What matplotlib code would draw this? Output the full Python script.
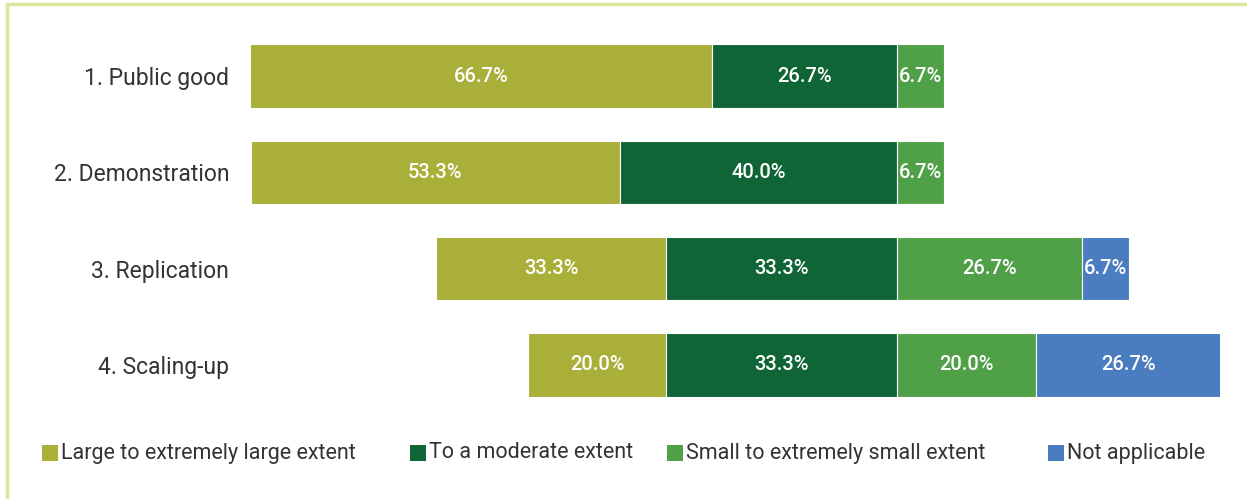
"""Diverging stacked bar chart of extent ratings per category."""

import matplotlib
matplotlib.use("Agg")
import matplotlib.pyplot as plt
from matplotlib.patches import Rectangle
from matplotlib.lines import Line2D

plt.rcParams["font.family"] = ["Roboto", "DejaVu Sans"]

# ── Data ──────────────────────────────────────────────────────────────────────

categories = ["1. Public good", "2. Demonstration", "3. Replication", "4. Scaling-up"]
series_names = [
    "Large to extremely large extent",
    "To a moderate extent",
    "Small to extremely small extent",
    "Not applicable",
]
large = [66.7, 53.3, 33.3, 20.0]
moderate = [26.7, 40.0, 33.3, 33.3]
small = [6.7, 6.7, 26.7, 20.0]
not_applicable = [0.0, 0.0, 6.7, 26.7]

colors = ["#A9AF38", "#106537", "#50A047", "#4A7CC0"]
text_color = "#333333"
frame_color = "#D8E89C"

# ── Figure ────────────────────────────────────────────────────────────────────

W, H = 1247, 499
fig = plt.figure(figsize=(W / 100, H / 100), dpi=100)
ax = fig.add_axes([250 / W, 86 / H, 970 / W, 385 / H])

series = [large, moderate, small, not_applicable]
for i, cat in enumerate(categories):
    # bars diverge around the moderate/small boundary
    left = -(large[i] + moderate[i])
    for vals, color in zip(series, colors):
        v = vals[i]
        if v <= 0:
            continue
        ax.barh(i, v, left=left, height=0.66, color=color,
                edgecolor="white", linewidth=0.8)
        ax.text(left + v / 2, i, f"{v:.1f}%", ha="center", va="center",
                color="white", fontsize=14.5, fontweight="medium")
        left += v

ax.set_xlim(-93.4, 46.6)
ax.set_ylim(3.5, -0.5)
ax.set_yticks(range(len(categories)))
ax.set_yticklabels(categories, fontsize=16.5, color=text_color)
ax.tick_params(axis="y", length=0, pad=15)
ax.set_xticks([])
for s in ax.spines.values():
    s.set_visible(False)

# legend row along the bottom: square marker then label
legend_x = [42, 410, 667, 1048]
legend_y = 453
for x, name, color in zip(legend_x, series_names, colors):
    fig.add_artist(Rectangle(((x) / W, (H - legend_y - 8) / H), 16 / W, 16 / H,
                             facecolor=color, edgecolor="none",
                             transform=fig.transFigure))
    fig.text((x + 19) / W, (H - legend_y) / H, name, ha="left", va="center",
             fontsize=15.5, color=text_color)

# light frame on the top and left edges
fig.add_artist(Line2D([7 / W, 7 / W], [0, 1 - 4 / H], color=frame_color, lw=2.5))
fig.add_artist(Line2D([7 / W, 1], [1 - 4 / H, 1 - 4 / H], color=frame_color, lw=2.5))

fig.savefig("out.png", dpi=100)
plt.close(fig)
